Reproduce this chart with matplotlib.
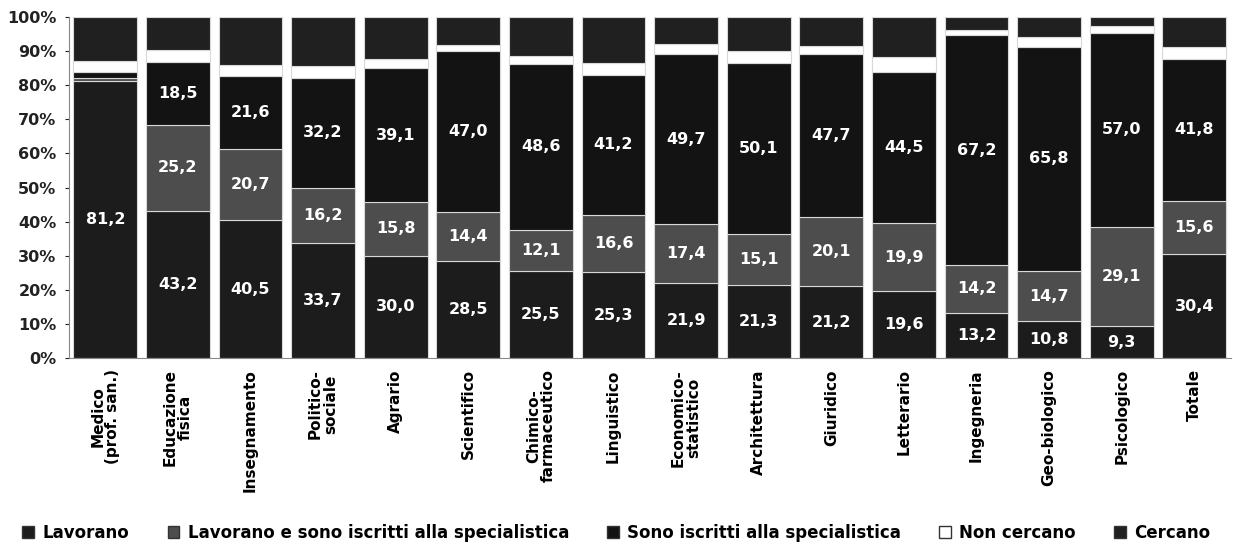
import matplotlib
matplotlib.use("Agg")
import matplotlib.pyplot as plt
from matplotlib.patches import Patch
from matplotlib.ticker import FuncFormatter
import numpy as np

plt.rcParams['font.family'] = ['DejaVu Sans']

categories = ['Medico\n(prof. san.)', 'Educazione\nfisica', 'Insegnamento',
              'Politico-\nsociale', 'Agrario', 'Scientifico', 'Chimico-\nfarmaceutico',
              'Linguistico', 'Economico-\nstatistico', 'Architettura', 'Giuridico',
              'Letterario', 'Ingegneria', 'Geo-biologico', 'Psicologico', 'Totale']

lavorano = [81.2, 43.2, 40.5, 33.7, 30.0, 28.5, 25.5, 25.3, 21.9, 21.3, 21.2, 19.6, 13.2, 10.8, 9.3, 30.4]
lav_iscritti = [0.8, 25.2, 20.7, 16.2, 15.8, 14.4, 12.1, 16.6, 17.4, 15.1, 20.1, 19.9, 14.2, 14.7, 29.1, 15.6]
iscritti = [2.0, 18.5, 21.6, 32.2, 39.1, 47.0, 48.6, 41.2, 49.7, 50.1, 47.7, 44.5, 67.2, 65.8, 57.0, 41.8]
non_cercano = [3.2, 3.4, 3.2, 3.4, 2.8, 2.0, 2.3, 3.4, 3.0, 3.4, 2.5, 4.4, 1.5, 2.8, 1.8, 3.5]
cercano = [12.8, 9.7, 14.0, 14.5, 12.3, 8.1, 11.5, 13.5, 8.0, 10.1, 8.5, 11.6, 3.9, 5.9, 2.8, 8.7]

series = [
    ('Lavorano', lavorano, '#1c1c1c', True),
    ('Lavorano e sono iscritti alla specialistica', lav_iscritti, '#4d4d4d', True),
    ('Sono iscritti alla specialistica', iscritti, '#131313', True),
    ('Non cercano', non_cercano, '#ffffff', False),
    ('Cercano', cercano, '#202020', False),
]

fig = plt.figure(figsize=(12.33, 5.46), dpi=100)
ax = fig.add_axes([0.056, 0.344, 0.942, 0.625])

x = np.arange(len(categories))
bottom = np.zeros(len(categories))
handles = []
for name, vals, color, show in series:
    vals = np.array(vals)
    ax.bar(x, vals, bottom=bottom, width=0.88, color=color,
           edgecolor='#d8d8d8', linewidth=0.8)
    if show:
        for xi, b, v in zip(x, bottom, vals):
            if v >= 5:
                ax.text(xi, b + v / 2, f'{v:.1f}'.replace('.', ','),
                        ha='center', va='center', color='white',
                        fontsize=11.5, fontweight='bold')
    bottom += vals
    handles.append(Patch(facecolor=color, edgecolor='#333333', label=name))

ax.set_xlim(-0.5, len(categories) - 0.5)
ax.set_ylim(0, 100)
ax.set_yticks(np.arange(0, 101, 10))
ax.yaxis.set_major_formatter(FuncFormatter(lambda v, p: f'{int(v)}%'))
for lbl in ax.get_yticklabels():
    lbl.set_fontweight('bold')
    lbl.set_fontsize(11.5)
ax.tick_params(axis='y', length=3, pad=6, colors='#222222')
ax.set_xticks(x)
ax.set_xticklabels(categories, rotation=90, fontsize=11, fontweight='bold',
                   multialignment='center', linespacing=1.0)
ax.tick_params(axis='x', length=0, pad=8)
for s in ['top', 'right']:
    ax.spines[s].set_visible(False)
ax.spines['left'].set_color('#888888')
ax.spines['bottom'].set_color('#888888')

fig.legend(handles=handles, loc='lower center', ncol=5, frameon=False,
           bbox_to_anchor=(0.5, -0.02), handlelength=0.7, handleheight=0.7,
           columnspacing=2.3, handletextpad=0.5,
           prop={'weight': 'bold', 'size': 12})

fig.savefig('out.png', dpi=100, facecolor='white')
